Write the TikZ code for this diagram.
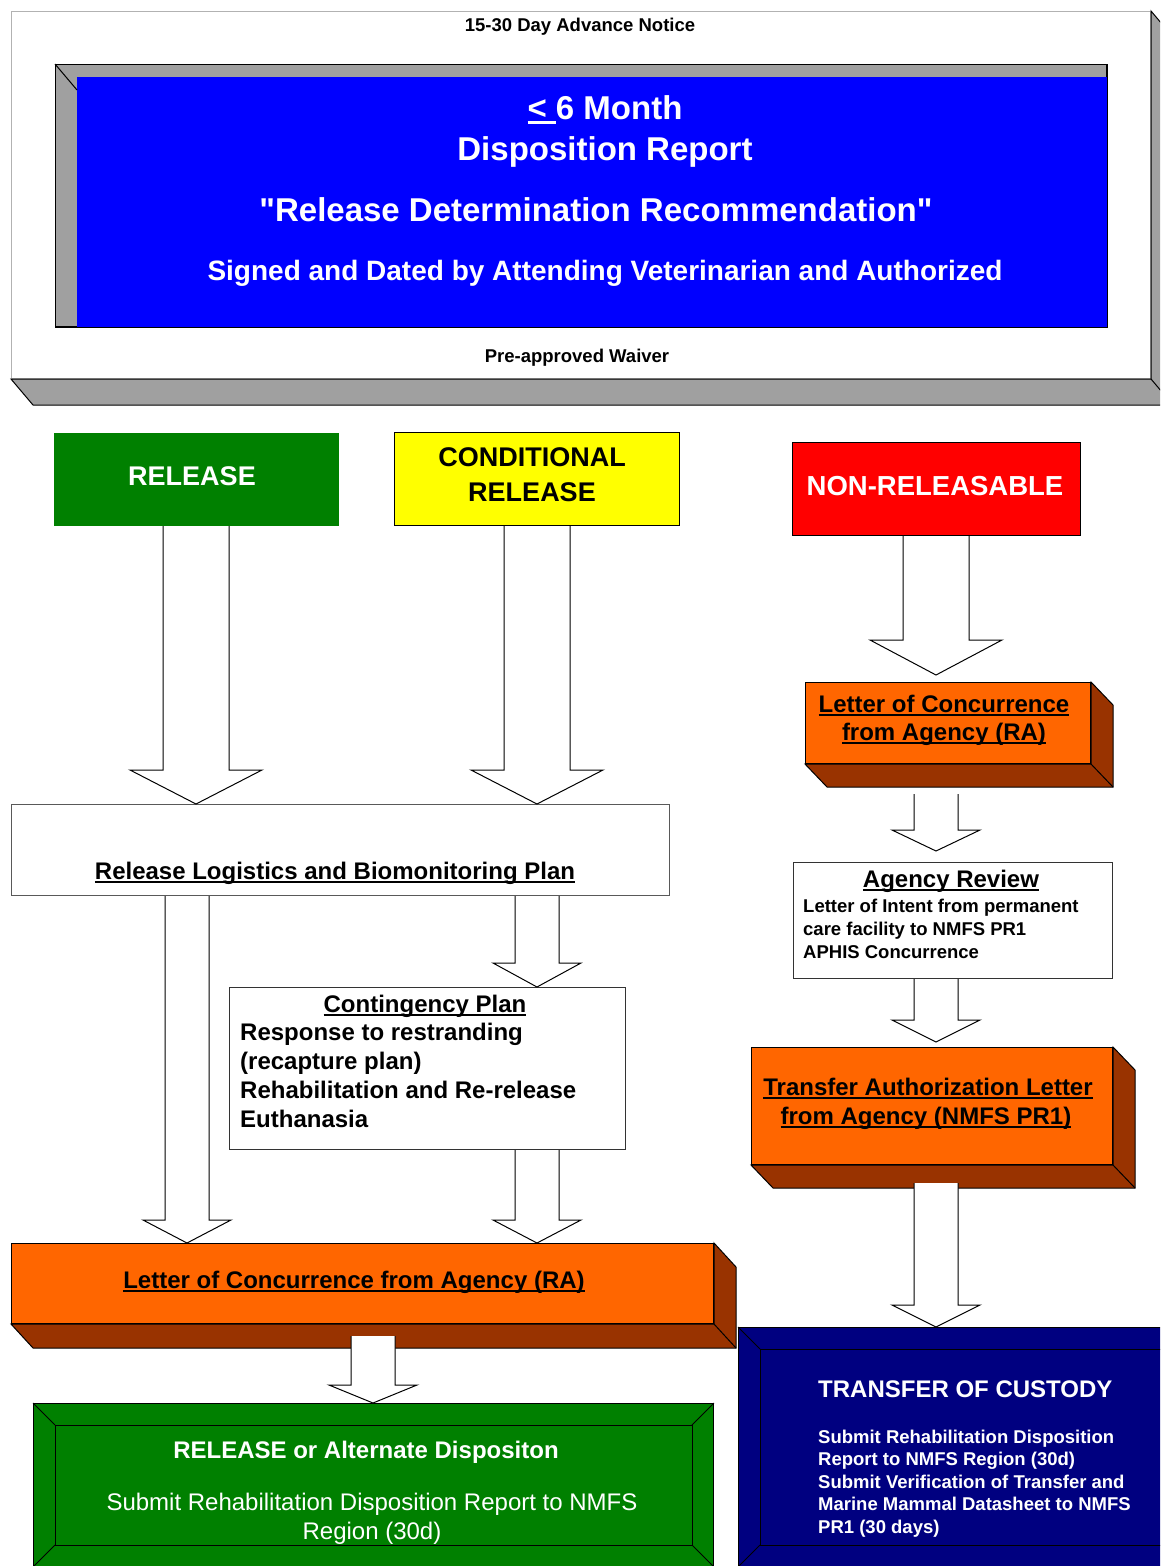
\documentclass[tikz,border=0pt]{standalone}
\usepackage{fontspec}
\setmainfont{Liberation Sans}
\usetikzlibrary{calc,positioning}

\definecolor{relgreen}{RGB}{0,128,0}
\definecolor{repblue}{RGB}{0,0,255}
\definecolor{bevelgray}{RGB}{160,160,160}
\definecolor{agorange}{RGB}{255,102,0}
\definecolor{agbrown}{RGB}{153,51,0}
\definecolor{custnavy}{RGB}{0,0,128}
\definecolor{condyellow}{RGB}{255,255,0}
\definecolor{nonred}{RGB}{255,0,0}

\newsavebox\ulsave
\newcommand{\ulbox}[1]{\sbox\ulsave{#1}\rlap{\rule[-0.15em]{\wd\ulsave}{0.08em}}\usebox\ulsave}
\newcommand{\fsz}[1]{\fontsize{#1pt}{#1pt}\selectfont}
\newcommand{\dq}{\XeTeXglyph\XeTeXcharglyph"22\relax}

\tikzset{
  panel/.style={inner sep=0pt,anchor=north west,line width=1pt},
  lbl/.style={inner sep=0pt,anchor=base},
  lbll/.style={inner sep=0pt,anchor=base west},
  outline/.style={draw=black,line width=1pt},
}

% side and bottom of a raised box
\newcommand{\extrude}[4]{%
  \filldraw[fill=#4,outline] (#1.north east) -- ++(#2,#3) -- ($(#1.south east)+(#2,#3)$)
    -- ($(#1.south west)+(#2,#3)$) -- (#1.south west) -- (#1.south east) -- cycle;
  \draw[outline] (#1.south east) -- ++(#2,#3);
}
% bevelled frame
\newcommand{\bevel}[2]{%
  \draw[outline] ($(#1.north west)+(#2,#2)$) rectangle ($(#1.south east)+(-#2,-#2)$);
  \draw[outline] (#1.north west) -- ++(#2,#2) (#1.north east) -- ++(-#2,#2)
    (#1.south west) -- ++(#2,-#2) (#1.south east) -- ++(-#2,-#2);
}
% hollow block arrow: from, to, column, half shaft, half head, head length
\newcommand{\blockarrow}[6]{%
  \path (#1 -| #3) coordinate (ba-s) (#2 -| #3) coordinate (ba-t);
  \fill[white] ($(ba-s)+(-#4,0)$) -- ($(ba-t)+(-#4,-#6)$) -- ($(ba-t)+(-#5,-#6)$) -- (ba-t)
    -- ($(ba-t)+(#5,-#6)$) -- ($(ba-t)+(#4,-#6)$) -- ($(ba-s)+(#4,0)$) -- cycle;
  \draw[outline] ($(ba-s)+(-#4,0)$) -- ($(ba-t)+(-#4,-#6)$) -- ($(ba-t)+(-#5,-#6)$) -- (ba-t)
    -- ($(ba-t)+(#5,-#6)$) -- ($(ba-t)+(#4,-#6)$) -- ($(ba-s)+(#4,0)$);
}

\begin{document}
\begin{tikzpicture}[x=1pt,y=-1pt]
    \useasboundingbox (0,0) rectangle (1160,1566);
    \clip (0,0) rectangle (1160,1566);

    % top panel
    \node[panel,draw=gray!60,fill=white,minimum width=1139,minimum height=367] (notice) at (11,11) {};
    \extrude{notice}{22}{26}{bevelgray}
    \node[lbl,font=\fsz{18.5}\bfseries] (advance) at (580,31) {15-30 Day Advance Notice};
    \node[lbl,font=\fsz{18.5}\bfseries] (waiver) at (577,362) {Pre-approved Waiver};

    \node[panel,draw=black,fill=bevelgray,minimum width=1051,minimum height=262] (report) at (55,64) {};
    \fill[repblue] ($(report.north west)+(22,13)$) rectangle (report.south east);
    \draw[outline] (report.north west) -- ++(22,26);
    \draw[outline] (report.north west) rectangle (report.south east);
    \node[lbl,white,font=\fsz{33}\bfseries] (rep-a) at (605,119) {\ulbox{<~}6 Month};
    \node[lbl,white,font=\fsz{33}\bfseries] (rep-b) at (605,160) {Disposition Report};
    \node[lbl,white,font=\fsz{33}\bfseries] (rep-c) at (596,221) {\dq Release Determination Recommendation\dq};
    \node[lbl,white,font=\fsz{28}\bfseries] (rep-d) at (605,280) {Signed and Dated by Attending Veterinarian and Authorized};

    % three outcomes
    \node[panel,fill=relgreen,minimum width=285,minimum height=93] (rel) at (53,432) {};
    \node[lbl,white,font=\fsz{27}\bfseries] (rel-t) at (192,485) {RELEASE};
    \node[panel,draw=black,fill=condyellow,minimum width=285,minimum height=93] (cond) at (394,432) {};
    \node[lbl,font=\fsz{27}\bfseries] (cond-a) at (532,466) {CONDITIONAL};
    \node[lbl,font=\fsz{27}\bfseries] (cond-b) at (532,501) {RELEASE};
    \node[panel,draw=black,fill=nonred,minimum width=288,minimum height=93] (nonrel) at (792,442) {};
    \node[lbl,white,font=\fsz{27.5}\bfseries] (nonrel-t) at (935,495) {NON-RELEASABLE};

    % release branch
    \node[panel,draw=gray!70!black,fill=white,minimum width=658,minimum height=91] (logi) at (11,804) {};
    \node[lbl,font=\fsz{24}\bfseries] (logi-t) at (335,879) {\ulbox{Release Logistics and Biomonitoring Plan}};

    \node[panel,draw=black!80,fill=white,minimum width=396,minimum height=162] (cont) at (229,987) {};
    \node[lbl,font=\fsz{24}\bfseries] (cont-t) at (425,1012) {\ulbox{Contingency Plan}};
    \foreach \txt [count=\i from 0] in {Response to restranding,{(recapture plan)},Rehabilitation and Re-release,Euthanasia}
        \node[lbll,font=\fsz{24}\bfseries] (cont-l\i) at (240,1040+29*\i) {\txt};

    \node[panel,draw=black,fill=agorange,minimum width=702,minimum height=80] (lca) at (11,1243) {};
    \extrude{lca}{22}{24}{agbrown}
    \node[lbl,font=\fsz{24}\bfseries] (lca-t) at (354,1288) {\ulbox{Letter of Concurrence from Agency (RA)}};

    \node[panel,draw=black,fill=relgreen,minimum width=680,minimum height=163] (rod) at (33,1403) {};
    \bevel{rod}{22}
    \node[lbl,white,font=\fsz{24}\bfseries] (rod-t) at (366,1458) {RELEASE or Alternate Dispositon};
    \node[lbl,white,font=\fsz{24}] (rod-a) at (372,1510) {Submit Rehabilitation Disposition Report to NMFS};
    \node[lbl,white,font=\fsz{24}] (rod-b) at (372,1539) {Region (30d)};

    % non-releasable branch
    \node[panel,draw=black,fill=agorange,minimum width=285,minimum height=81] (lcr) at (805,682) {};
    \extrude{lcr}{22}{23}{agbrown}
    \node[lbl,font=\fsz{24}\bfseries] (lcr-a) at (944,712) {\ulbox{Letter of Concurrence}};
    \node[lbl,font=\fsz{24}\bfseries] (lcr-b) at (944,740) {\ulbox{from Agency (RA)}};

    \node[panel,draw=black!80,fill=white,minimum width=319,minimum height=116] (agr) at (793,862) {};
    \node[lbl,font=\fsz{24}\bfseries] (agr-t) at (951,887) {\ulbox{Agency Review}};
    \foreach \txt [count=\i from 0] in {Letter of Intent from permanent,care facility to NMFS PR1,APHIS Concurrence}
        \node[lbll,font=\fsz{18.5}\bfseries] (agr-l\i) at (803,912+23*\i) {\txt};

    \node[panel,draw=black,fill=agorange,minimum width=361,minimum height=117] (tal) at (751,1047) {};
    \extrude{tal}{22}{23}{agbrown}
    \node[lbl,font=\fsz{24}\bfseries] (tal-a) at (928,1095) {\ulbox{Transfer Authorization Letter}};
    \node[lbl,font=\fsz{24}\bfseries] (tal-b) at (926,1124) {\ulbox{from Agency (NMFS PR1)}};

    \node[panel,draw=black,fill=custnavy,minimum width=450,minimum height=239] (cust) at (738,1327) {};
    \bevel{cust}{22}
    \node[lbll,white,font=\fsz{24}\bfseries] (cust-t) at (818,1397) {TRANSFER OF CUSTODY};
    \foreach \txt [count=\i from 0] in {Submit Rehabilitation Disposition,{Report to NMFS Region (30d)},Submit Verification of Transfer and,Marine Mammal Datasheet to NMFS,{PR1 (30 days)}}
        \node[lbll,white,font=\fsz{18.5}\bfseries] (cust-l\i) at (818,1443+22.5*\i) {\txt};

    % arrow columns and offsets
    \coordinate (colR) at (196,0);
    \coordinate (colC) at (537,0);
    \coordinate (colL) at (187,0);
    \coordinate (colD) at (373,0);
    \coordinate (colN) at (936,0);
    \coordinate (lca-foot) at ($(lca.south)+(0,12)$);
    \coordinate (lcr-foot) at ($(lcr.south)+(0,30)$);
    \coordinate (tal-foot) at ($(tal.south)+(0,18)$);
    \coordinate (lcr-head) at ($(lcr.north)+(0,-7)$);
    \coordinate (agr-head) at ($(agr.north)+(0,-11)$);
    \coordinate (tal-head) at ($(tal.north)+(0,-5)$);

    \blockarrow{rel.south}{logi.north}{colR}{33}{66}{34}
    \blockarrow{cond.south}{logi.north}{colC}{33}{66}{34}
    \blockarrow{logi.south}{lca.north}{colL}{22}{44}{23}
    \blockarrow{logi.south}{cont.north}{colC}{22}{44}{24}
    \blockarrow{cont.south}{lca.north}{colC}{22}{44}{23}
    \blockarrow{lca-foot}{rod.north}{colD}{22}{44}{18}

    \blockarrow{nonrel.south}{lcr-head}{colN}{33}{66}{35}
    \blockarrow{lcr-foot}{agr-head}{colN}{22}{44}{21}
    \blockarrow{agr.south}{tal-head}{colN}{22}{44}{22}
    \blockarrow{tal-foot}{cust.north}{colN}{22}{44}{22}

\end{tikzpicture}
\end{document}
